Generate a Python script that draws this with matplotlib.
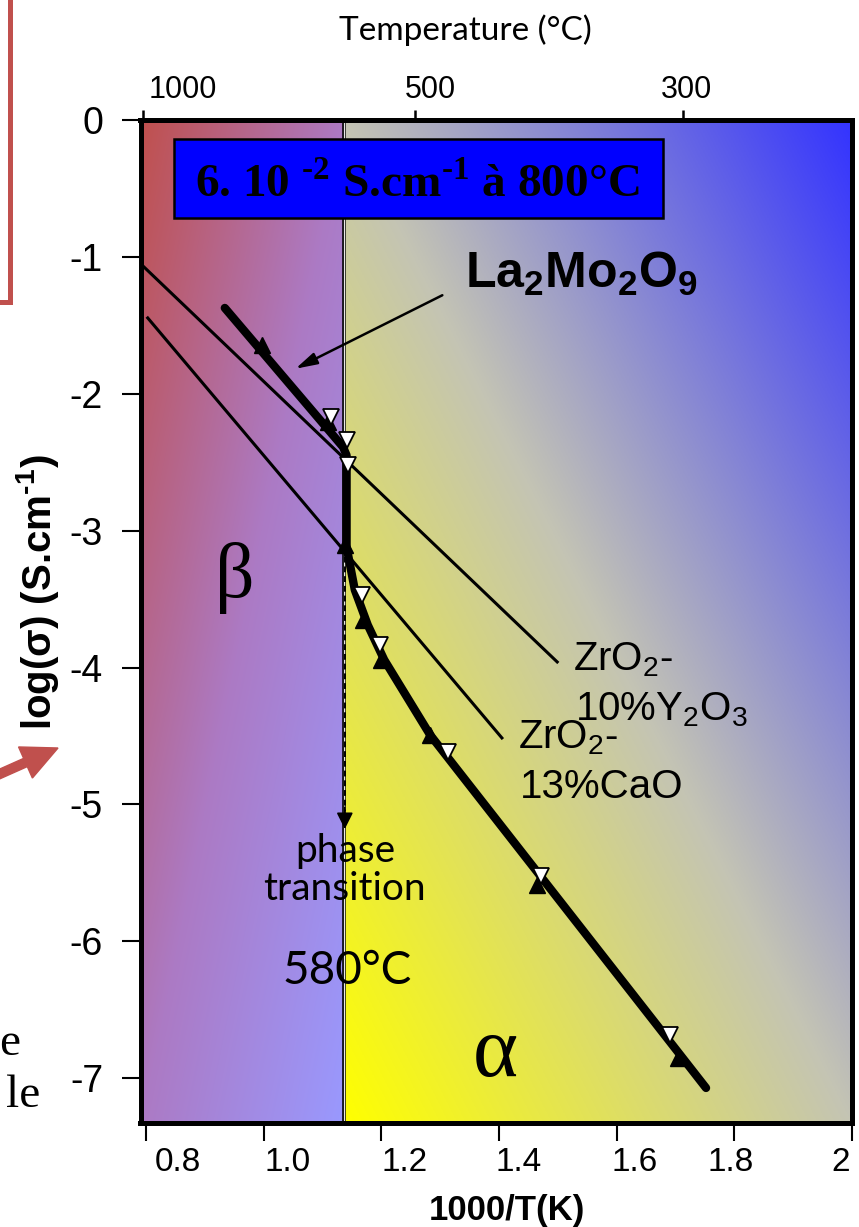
import numpy as np
import matplotlib.pyplot as plt
from matplotlib.patches import Rectangle, FancyArrow

plt.rcParams['font.family'] = ['Liberation Sans', 'DejaVu Sans']
plt.rcParams['axes.unicode_minus'] = False
plt.rcParams['mathtext.fontset'] = 'custom'
plt.rcParams['mathtext.rm'] = 'Liberation Sans'
plt.rcParams['mathtext.bf'] = 'Liberation Sans:bold'
plt.rcParams['mathtext.sf'] = 'Liberation Serif:bold'

# La2Mo2O9 conductivity curve (1000/T, log sigma)
la_x = [0.934, 1.135, 1.141, 1.141, 1.155, 1.177, 1.205, 1.283, 1.752]
la_y = [-1.373, -2.389, -2.45, -3.119, -3.433, -3.689, -3.944, -4.492, -7.071]

# measured points: filled up-triangles and open down-triangles
up_x = [0.997, 1.109, 1.138, 1.169, 1.199, 1.283, 1.465, 1.704]
up_y = [-1.644, -2.206, -3.104, -3.652, -3.944, -4.492, -5.588, -6.852]
down_x = [1.114, 1.142, 1.143, 1.167, 1.198, 1.313, 1.471, 1.691]
down_y = [-2.169, -2.337, -2.520, -3.470, -3.835, -4.616, -5.522, -6.684]

# reference electrolytes
y2o3_x = [0.793, 1.499]
y2o3_y = [-1.059, -3.959]
cao_x = [0.803, 1.405]
cao_y = [-1.446, -4.514]

transition_x = 1.136

yticks = [0, -1, -2, -3, -4, -5, -6, -7]
ytick_labels = ['0', '-1', '-2', '-3', '-4', '-5', '-6', '-7']
xticks = [0.8, 1.0, 1.2, 1.4, 1.6, 1.8, 2.0]
xtick_labels = ['0.8', '1.0', '1.2', '1.4', '1.6', '1.8', '2']
xlabel_pos = [0.854, 1.040, 1.239, 1.433, 1.631, 1.793, 1.980]
temp_labels = ['1000', '500', '300']
temp_pos = [0.795, 1.257, 1.713]
temp_label_pos = [0.863, 1.283, 1.718]

W, H = 859, 1227
fig = plt.figure(figsize=(W / 100, H / 100), dpi=100)
ax = fig.add_axes([140.5 / W, (H - 1123) / H, (852 - 140.5) / W, (1123 - 120) / H])
xmin, xmax = 0.7907, 2.0001
ymin, ymax = -7.327, 0.0


def ramp(t, stops, cols):
    cols = np.array(cols, dtype=float) / 255
    return np.stack([np.interp(t, stops, cols[:, k]) for k in range(3)], axis=-1)


# background gradients
u, v = np.meshgrid(np.linspace(0, 1, 200), np.linspace(0, 1, 400))
left = ramp((u + v) / 2, [0, 0.5, 1], [(192, 80, 77), (172, 122, 196), (153, 153, 255)])
right = ramp((u + 1 - v) / 2, [0, 0.5, 1], [(255, 255, 0), (196, 196, 180), (51, 51, 255)])
ax.imshow(left, extent=[xmin, transition_x, ymin, ymax], aspect='auto', zorder=0)
ax.imshow(right, extent=[transition_x, xmax, ymin, ymax], aspect='auto', zorder=0)
ax.axvline(transition_x, color='black', lw=2.6, zorder=1)
ax.axvline(transition_x, color='#e8e8e8', lw=0.9, zorder=1)

ax.plot(y2o3_x, y2o3_y, color='black', lw=2.2, zorder=2)
ax.plot(cao_x, cao_y, color='black', lw=2.2, zorder=2)
ax.plot(la_x, la_y, color='black', lw=6, solid_capstyle='round', solid_joinstyle='round', zorder=3)
ax.plot(up_x, up_y, ls='none', marker='^', ms=11, color='black', zorder=4)
ax.plot(down_x, down_y, ls='none', marker='v', ms=11, mfc='white', mec='black', mew=1.3, zorder=5)

# phase transition dashed arrow
ax.plot([1.138, 1.138], [-3.12, -5.05], color='black', lw=1.4, ls=(0, (3, 2)), zorder=3)
ax.annotate('', xy=(1.138, -5.2), xytext=(1.138, -5.0),
            arrowprops=dict(arrowstyle='-|>,head_length=1.0,head_width=0.5', color='black',
                            lw=1.2, mutation_scale=10), zorder=4)

# label arrow to La2Mo2O9 curve
ax.annotate('', xy=(1.050, -1.826), xytext=(1.308, -1.271),
            arrowprops=dict(arrowstyle='-|>,head_length=0.72,head_width=0.2', color='black',
                            lw=1.8, mutation_scale=18), zorder=4)

# blue box
ax.add_patch(Rectangle((0.047, 0.902), 0.687, 0.079, transform=ax.transAxes,
                       facecolor='#0000ff', edgecolor='black', lw=1.8, zorder=6))
ax.text(0.389, 0.924, r'6. 10 $^{\mathsf{‐2}}$ S.cm$^{\mathsf{‐1}}$ à 800°C', transform=ax.transAxes,
        family='Liberation Serif', weight='bold', size=34, ha='center', va='baseline', zorder=7)

ax.text(1.342, -1.227, r'La$_{\mathbf{2}}$Mo$_{\mathbf{2}}$O$_{\mathbf{9}}$', weight='bold', size=36,
        ha='left', va='baseline')
ax.text(1.526, -4.018, r'ZrO$_{\mathrm{2}}$-', size=29, ha='left', va='baseline')
ax.text(1.529, -4.383, r'10%Y$_{\mathrm{2}}$O$_{\mathrm{3}}$', size=29, ha='left', va='baseline')
ax.text(1.432, -4.587, r'ZrO$_{\mathrm{2}}$-', size=29, ha='left', va='baseline')
ax.text(1.436, -4.953, '13%CaO', size=29, ha='left', va='baseline')
ax.text(0.951, -3.345, 'β', family='Liberation Serif', size=56, ha='center', va='center')
ax.text(1.393, -6.83, 'α', family='Liberation Serif', size=62, ha='center', va='center')
ax.text(1.138, -5.42, 'phase', family='Lato', size=28, ha='center', va='baseline')
ax.text(1.138, -5.698, 'transition', family='Lato', size=28, ha='center', va='baseline')
ax.text(1.1425, -6.311, '580°C', family='Lato', size=33, ha='center', va='baseline')

ax.set_xlim(xmin, xmax)
ax.set_ylim(ymin, ymax)
ax.set_yticks(yticks)
ax.set_yticklabels(ytick_labels)
ax.tick_params(axis='y', direction='out', length=14, width=1.5, pad=13, labelsize=27)
ax.set_xticks(xlabel_pos)
ax.set_xticklabels(xtick_labels)
ax.set_xticks(xticks, minor=True)
ax.tick_params(axis='x', which='major', length=0, pad=17, labelsize=24)
ax.tick_params(axis='x', which='minor', direction='out', length=13, width=1.5)
for s in ax.spines.values():
    s.set_linewidth(3.5)

top = ax.twiny()
top.set_xlim(xmin, xmax)
top.set_xticks(temp_label_pos)
top.set_xticklabels(temp_labels)
top.set_xticks(temp_pos, minor=True)
top.tick_params(axis='x', which='major', length=0, pad=11, labelsize=22)
top.tick_params(axis='x', which='minor', direction='out', length=7, width=1.8)
for s in top.spines.values():
    s.set_linewidth(3.5)

fig.text(465 / W, 1 - 40 / H, 'Temperature (°C)', family='Lato', size=24, ha='center', va='baseline')
fig.text(38 / W, 1 - 592 / H, r'log(σ) (S.cm$^{\mathbf{‐1}}$)', rotation=90, weight='bold', size=29,
         ha='center', va='center')
fig.text(507 / W, 1 - 1220 / H, '1000/T(K)', weight='bold', size=25, ha='center', va='baseline')

# fragments of the surrounding slide
fig.add_artist(Rectangle((-0.1, (H - 302) / H), 0.1 + 10 / W, 0.5, transform=fig.transFigure,
                         facecolor='none', edgecolor='#c0504d', lw=3.6))
fig.add_artist(FancyArrow(-0.10, 4.487, 0.68, 0.303, width=0.09, head_width=0.34, head_length=0.356,
                          length_includes_head=True, color='#c0504d', transform=fig.dpi_scale_trans))
fig.text(20 / W, 1 - 1055 / H, 'e', family='Liberation Serif', size=34, ha='right', va='baseline')
fig.text(40 / W, 1 - 1107 / H, 'le', family='Liberation Serif', size=34, ha='right', va='baseline')

fig.savefig('out.png', dpi=100)
